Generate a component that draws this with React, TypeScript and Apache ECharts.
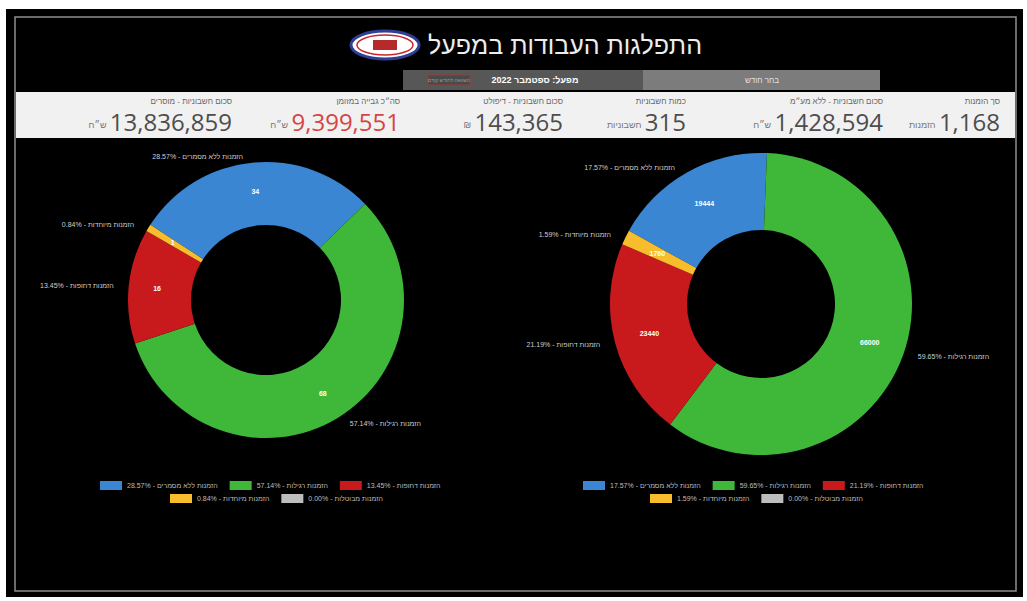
import React, { useEffect, useRef } from "react";
import * as echarts from "echarts";

const title = "התפלגות העבודות במפעל";
const tabActive = "מפעל: ספטמבר 2022";
const tabCompare = "השוואה לחודש קודם";
const tabOther = "בחר חודש";

const statLabels = [
  "סכום חשבוניות - מוסרים",
  "סה״כ גבייה במזומן",
  "סכום חשבוניות - דיפולט",
  "כמות חשבוניות",
  "סכום חשבוניות - ללא מע״מ",
  "סך הזמנות",
];
const statValues = ["13,836,859", "9,399,551", "143,365", "315", "1,428,594", "1,168"];
const statUnits = ["ש״ח", "ש״ח", "₪", "חשבוניות", "ש״ח", "הזמנות"];

const categories = [
  "הזמנות ללא מסמרים",
  "הזמנות רגילות",
  "הזמנות דחופות",
  "הזמנות מיוחדות",
  "הזמנות מבוטלות",
];
const colors = ["#3a86d2", "#3fb83a", "#c8191c", "#f8bd2c", "#bdbdbd"];
const leftValues = [34, 68, 16, 1, 0];
const rightValues = [19444, 66000, 23440, 1760, 0];

const FONT = '"Liberation Sans", "DejaVu Sans", sans-serif';

function pct(values: number[], name: string) {
  const total = values.reduce((a, b) => a + b, 0);
  const i = categories.indexOf(name);
  return ((values[i] / total) * 100).toFixed(2);
}

function buildData(values: number[], overlay: boolean) {
  return categories.map((name, i) => ({
    name,
    value: values[i],
    itemStyle: { color: overlay ? "rgba(0,0,0,0)" : colors[i] },
    label: { show: values[i] > 0 },
  }));
}

function pieSeries(values: number[], center: number[], radius: number[], startAngle: number) {
  const common = {
    type: "pie",
    center,
    radius,
    startAngle,
    clockwise: true,
    avoidLabelOverlap: false,
    emphasis: { disabled: true },
    labelLine: { show: false, length: 6, length2: 4 },
  };
  return [
    {
      ...common,
      data: buildData(values, false),
      label: {
        position: "inside",
        formatter: (p: any) => String(p.value),
        color: "#fff",
        fontSize: 7,
        fontWeight: "bold",
        fontFamily: FONT,
      },
    },
    {
      ...common,
      silent: true,
      data: buildData(values, true),
      label: {
        position: "outside",
        formatter: (p: any) => `${pct(values, p.name)}% - ${p.name}`,
        color: "#cfcfcf",
        fontSize: 7,
        fontFamily: FONT,
      },
    },
  ];
}

function statGraphics() {
  const rights = [232, 400, 563, 686, 883, 1000];
  const els: any[] = [];
  statLabels.forEach((label, i) => {
    els.push({
      type: "text",
      x: rights[i],
      y: 101,
      style: { text: label, fill: "#666", font: `8px ${FONT}`, align: "right", verticalAlign: "middle" },
    });
    els.push({
      type: "text",
      x: rights[i],
      y: 133,
      style: {
        text: `{u|${statUnits[i]}} {n|${statValues[i]}}`,
        align: "right",
        verticalAlign: "bottom",
        rich: {
          n: { fontSize: 24, fontFamily: '"Open Sans", ' + FONT, fill: i === 1 ? "#d64545" : "#4d4d4d", verticalAlign: "bottom" },
          u: { fontSize: 9, fontFamily: FONT, fill: "#777", verticalAlign: "bottom", padding: [0, 0, 4, 0] },
        },
      },
    });
  });
  return els;
}

export default function App() {
  const ref = useRef<HTMLDivElement>(null);
  useEffect(() => {
    if (!ref.current) return;
    const chart = echarts.init(ref.current, undefined, { renderer: "svg" });
    const legendBase = {
      orient: "horizontal",
      icon: "rect",
      itemWidth: 22,
      itemHeight: 9,
      itemGap: 12,
      selectedMode: false,
      textStyle: { color: "#bdbdbd", fontSize: 7, fontFamily: FONT },
    };
    chart.setOption({
      animation: false,
      backgroundColor: "#ffffff",
      textStyle: { fontFamily: FONT },
      graphic: [
        { type: "rect", z: -10, shape: { x: 6, y: 9, width: 1017, height: 588 }, style: { fill: "#000" } },
        { type: "rect", z: -9, shape: { x: 15, y: 17, width: 1001, height: 574 }, style: { fill: "none", stroke: "#8e8e8e", lineWidth: 1.5 } },
        { type: "text", x: 565, y: 45, style: { text: title, fill: "#ececec", font: `25px ${FONT}`, align: "center", verticalAlign: "middle" } },
        { type: "ellipse", shape: { cx: 385, cy: 45, rx: 34, ry: 14 }, style: { fill: "#fff", stroke: "#2e3f96", lineWidth: 3 } },
        { type: "ellipse", shape: { cx: 385, cy: 45, rx: 28, ry: 10 }, style: { fill: "none", stroke: "#c8282a", lineWidth: 1.5 } },
        { type: "rect", shape: { x: 373, y: 40, width: 24, height: 10 }, style: { fill: "#b52a2a" } },
        { type: "rect", shape: { x: 403, y: 70, width: 240, height: 20 }, style: { fill: "#575757" } },
        { type: "rect", shape: { x: 643, y: 70, width: 237, height: 20 }, style: { fill: "#7c7c7c" } },
        { type: "rect", shape: { x: 428, y: 75, width: 42, height: 10 }, style: { fill: "#4a4a4a", stroke: "#9a3a3a", lineWidth: 1 } },
        { type: "text", x: 449, y: 80, style: { text: tabCompare, fill: "#999", font: `5px ${FONT}`, align: "center", verticalAlign: "middle" } },
        { type: "text", x: 535, y: 80, style: { text: tabActive, fill: "#fff", font: `bold 9px ${FONT}`, align: "center", verticalAlign: "middle" } },
        { type: "text", x: 762, y: 80, style: { text: tabOther, fill: "#e0e0e0", font: `8px ${FONT}`, align: "center", verticalAlign: "middle" } },
        { type: "rect", z: -5, shape: { x: 16, y: 92, width: 999, height: 46 }, style: { fill: "#f1f1f1" } },
        ...statGraphics(),
      ],
      legend: [
        { ...legendBase, data: categories.slice(0, 3), left: 95, top: 476, formatter: (n: string) => `${pct(leftValues, n)}% - ${n}` },
        { ...legendBase, data: categories.slice(3), left: 165, top: 489, formatter: (n: string) => `${pct(leftValues, n)}% - ${n}` },
        { ...legendBase, data: categories.slice(0, 3), left: 578, top: 476, formatter: (n: string) => `${pct(rightValues, n)}% - ${n}` },
        { ...legendBase, data: categories.slice(3), left: 645, top: 489, formatter: (n: string) => `${pct(rightValues, n)}% - ${n}` },
      ],
      series: [
        ...pieSeries(leftValues, [266, 300], [75, 138], 147),
        ...pieSeries(rightValues, [761, 304], [74, 151], 151),
      ],
    });
    return () => chart.dispose();
  }, []);
  return <div ref={ref} style={{ position: "absolute", left: 0, top: 0, width: 1027, height: 601 }} />;
}
